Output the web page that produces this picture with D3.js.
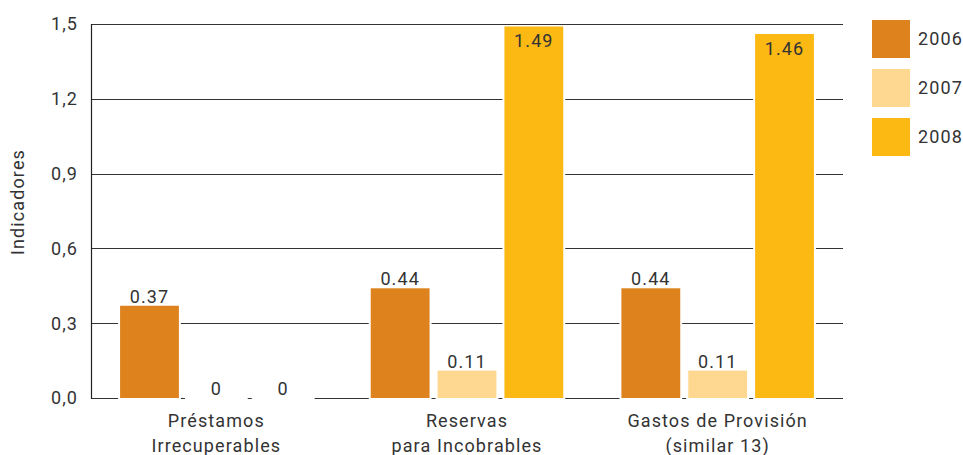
<!DOCTYPE html>
<html>
<head>
<meta charset="utf-8">
<script src="https://cdn.jsdelivr.net/npm/d3@7"></script>
<style>
  html, body { margin: 0; padding: 0; background: #fff; }
  svg { display: block; font-family: Roboto, "DejaVu Sans", sans-serif; }
  svg text { letter-spacing: 1.1px; }
</style>
</head>
<body>
<svg id="chart" width="963" height="455"></svg>
<script>
// Categories (two-line labels) and yearly series
const categories = [
  ["Préstamos", "Irrecuperables"],
  ["Reservas", "para Incobrables"],
  ["Gastos de Provisión", "(similar 13)"]
];
const years = ["2006", "2007", "2008"];
const values2006 = [0.37, 0.44, 0.44];
const values2007 = [0, 0.11, 0.11];
const values2008 = [0, 1.49, 1.46];
const yTicks = [0, 0.3, 0.6, 0.9, 1.2, 1.5];
const colors = ["#DE821E", "#FED890", "#FCB813"];

const series = [values2006, values2007, values2008];
const rows = categories.map((c, i) => ({
  key: i,
  label: c,
  vals: years.map((yr, j) => ({ year: yr, value: series[j][i], idx: j }))
}));

const svg = d3.select("#chart");
const plotLeft = 91, plotRight = 843, plotTop = 24, plotBottom = 398;

const x0 = d3.scaleBand().domain(rows.map(r => r.key)).range([plotLeft, plotRight])
  .paddingInner(0.2).paddingOuter(0.1);
const x1 = d3.scaleBand().domain(years).range([0, x0.bandwidth()])
  .paddingInner(0.12).paddingOuter(0.06);
const y = d3.scaleLinear().domain([0, 1.5]).range([plotBottom, plotTop]);
const color = d3.scaleOrdinal().domain(years).range(colors);

const textColor = "#333";

// Horizontal gridlines
svg.append("g").selectAll("line").data(yTicks).join("line")
  .attr("x1", plotLeft).attr("x2", plotRight)
  .attr("y1", d => Math.round(y(d)) + 0.5).attr("y2", d => Math.round(y(d)) + 0.5)
  .attr("stroke", "#333").attr("stroke-width", 1.2);

// Y axis line
svg.append("line")
  .attr("x1", plotLeft + 0.5).attr("x2", plotLeft + 0.5)
  .attr("y1", y(1.5)).attr("y2", y(0) + 1)
  .attr("stroke", "#222").attr("stroke-width", 1.2);

// Y tick labels
svg.append("g").selectAll("text").data(yTicks).join("text")
  .attr("x", 78).attr("y", d => y(d))
  .attr("dy", "0.35em")
  .attr("text-anchor", "end")
  .attr("font-size", 18).attr("fill", textColor)
  .text(d => d3.format(".1f")(d).replace(".", ","));

// Y axis title
svg.append("text")
  .attr("transform", "translate(24,202) rotate(-90)")
  .attr("text-anchor", "middle")
  .attr("font-size", 18).attr("fill", textColor)
  .text("Indicadores");

// Bars
const groups = svg.append("g").selectAll("g").data(rows).join("g")
  .attr("transform", d => `translate(${x0(d.key)},0)`);

// white gap behind each bar
groups.selectAll("rect.pad").data(d => d.vals).join("rect")
  .attr("class", "pad")
  .attr("x", d => x1(d.year) - 2)
  .attr("width", x1.bandwidth() + 4)
  .attr("y", d => y(d.value) - 1)
  .attr("height", d => y(0) - y(d.value) + 3)
  .attr("fill", "#fff");

groups.selectAll("rect.bar").data(d => d.vals).join("rect")
  .attr("class", "bar")
  .attr("x", d => x1(d.year))
  .attr("width", x1.bandwidth())
  .attr("y", d => y(d.value))
  .attr("height", d => y(0) - y(d.value))
  .attr("fill", d => color(d.year));

// Value labels
groups.selectAll("text.val").data(d => d.vals).join("text")
  .attr("class", "val")
  .attr("x", d => x1(d.year) + x1.bandwidth() / 2)
  .attr("y", d => d.value > 1.4 ? y(d.value) + 21 : y(d.value) - 3)
  .attr("text-anchor", "middle")
  .attr("font-size", 18).attr("fill", textColor)
  .text(d => d.value === 0 ? "0" : d3.format(".2f")(d.value));

// Category labels
const catLabels = svg.append("g").selectAll("text").data(rows).join("text")
  .attr("x", d => x0(d.key) + x0.bandwidth() / 2)
  .attr("text-anchor", "middle")
  .attr("font-size", 18).attr("fill", textColor);
catLabels.selectAll("tspan").data(d => d.label).join("tspan")
  .attr("x", function() { return d3.select(this.parentNode).attr("x"); })
  .attr("y", (d, i) => 427 + i * 25)
  .text(d => d);

// Legend
const legend = svg.append("g").selectAll("g").data(years).join("g")
  .attr("transform", (d, i) => `translate(872,${20 + i * 49})`);
legend.append("rect").attr("width", 38).attr("height", 38)
  .attr("fill", d => color(d));
legend.append("text").attr("x", 46).attr("y", 19).attr("dy", "0.35em")
  .attr("font-size", 18).attr("fill", textColor)
  .text(d => d);
</script>
</body>
</html>
